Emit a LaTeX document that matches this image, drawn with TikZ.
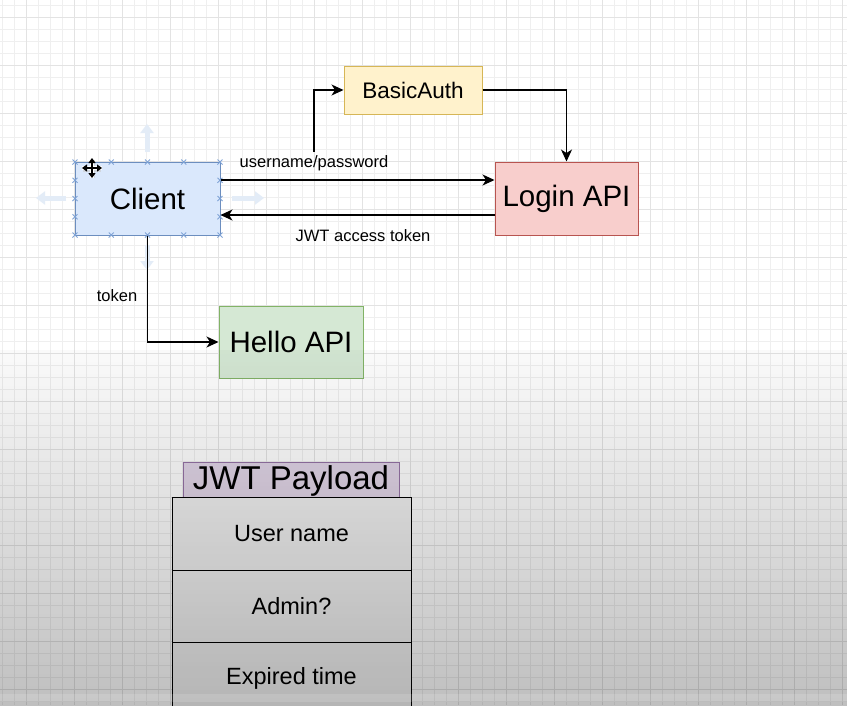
\documentclass[tikz,border=0pt]{standalone}
\usepackage{fontspec}
\setmainfont{Liberation Sans}
\usetikzlibrary{arrows.meta}
\definecolor{cfill}{HTML}{DAE8FC}\definecolor{cline}{HTML}{6C8EBF}
\definecolor{lfill}{HTML}{F8CECC}\definecolor{lline}{HTML}{B85450}
\definecolor{bfill}{HTML}{FFF2CC}\definecolor{bline}{HTML}{D6B656}
\definecolor{hfill}{HTML}{D5E8D4}\definecolor{hline}{HTML}{82B366}
\definecolor{pfill}{HTML}{E1D5E7}\definecolor{pline}{HTML}{9673A6}
\definecolor{gridminor}{HTML}{EFEFEF}\definecolor{gridmajor}{HTML}{E3E3E3}
\definecolor{cellfill}{HTML}{F2F2F2}\definecolor{hover}{HTML}{E3ECF7}
\definecolor{handle}{HTML}{7FA3D6}
\tikzset{
  box/.style={draw, line width=1pt, rectangle, inner sep=0pt, align=center},
  bigtxt/.style={font=\fontsize{29.5}{34}\selectfont},
  midtxt/.style={font=\fontsize{22.5}{27}\selectfont},
  smalltxt/.style={font=\fontsize{16.5}{20}\selectfont, inner sep=0pt},
  celltxt/.style={font=\fontsize{23.5}{28}\selectfont},
  arr/.style={line width=1.3pt, -{Stealth[length=12pt,width=11pt,inset=3.5pt]}},
  hoverarrow/.style={hover, line width=5pt, -{Triangle[length=9pt,width=13pt]}},
  handlemark/.style={handle, line width=0.8pt},
  curarrow/.style={line width=2pt, {Triangle[length=5pt,width=7pt]}-{Triangle[length=5pt,width=7pt]}}
}
\begin{document}
\begin{tikzpicture}[x=1pt,y=-1pt]
\useasboundingbox (0,0) rectangle (847,705);
\fill[white] (0,0) rectangle (847,705);
% grid
\foreach \x in {2,14,...,842} \draw[gridminor, line width=0.7pt] (\x,0) -- (\x,705);
\foreach \y in {5.3,17.3,...,704} \draw[gridminor, line width=0.7pt] (0,\y) -- (847,\y);
\foreach \x in {26,74,...,842} \draw[gridmajor, line width=0.8pt] (\x,0) -- (\x,705);
\foreach \y in {17.3,65.3,...,704} \draw[gridmajor, line width=0.8pt] (0,\y) -- (847,\y);

% hover arrows around the selected Client
\draw[hoverarrow] (147,152) -- (147,124);
\draw[hoverarrow] (66,198) -- (36,198);
\draw[hoverarrow] (232,198) -- (264,198);
\draw[hoverarrow] (147,245) -- (147,270);

% nodes
\node[box, draw=cline, fill=cfill, minimum width=145pt, minimum height=73pt, bigtxt] (client) at (147.5,198.5) {Client};
\node[box, draw=lline, fill=lfill, minimum width=143pt, minimum height=73pt, bigtxt] (login) at (566.5,198.5) {Login API};
\node[box, draw=bline, fill=bfill, minimum width=138pt, minimum height=48pt, midtxt] (basic) at (413,90) {BasicAuth};
\node[box, draw=hline, fill=hfill, minimum width=144pt, minimum height=72pt, bigtxt] (hello) at (291,342) {Hello API};

% selection handles on Client
\foreach \px in {75,111.25,147.5,183.75,220} {
  \foreach \py in {162,235} {
    \draw[handlemark] (\px-2.5,\py-2.5) -- (\px+2.5,\py+2.5) (\px-2.5,\py+2.5) -- (\px+2.5,\py-2.5);
  }
}
\foreach \py in {180.25,198.5,216.75} {
  \foreach \px in {75,220} {
    \draw[handlemark] (\px-2.5,\py-2.5) -- (\px+2.5,\py+2.5) (\px-2.5,\py+2.5) -- (\px+2.5,\py-2.5);
  }
}

% connectors
\draw[arr] (client.east |- 0,180) -- (login.west |- 0,180);
\node[smalltxt] (lblup) at (314,163.5) {username/password};
\draw[arr] (login.west |- 0,215) -- (client.east |- 0,215);
\node[smalltxt] (lbljwt) at (363,236) {JWT access token};
\coordinate (bastart) at (314,152);
\draw[arr] (bastart) |- (basic.west);
\draw[arr] (basic.east) -| (login.north);
\draw[arr] (client.south) |- (hello.west);
\node[smalltxt] (lbltoken) at (117,296) {token};

% move cursor
\begin{scope}[shift={(92,168)}]
  \draw[gray!40, line width=5pt, opacity=0.6] (-9,1) -- (9,1) (0,-8) -- (0,10);
  \draw[white, line width=4.5pt] (-10,0) -- (10,0) (0,-10) -- (0,10);
  \draw[black, curarrow] (-10,0) -- (10,0);
  \draw[black, curarrow] (0,-10) -- (0,10);
\end{scope}

% JWT payload table
\node[box, draw=pline, fill=pfill, minimum width=216pt, minimum height=35pt] (payload) at (291,479.5) {};
\node[font=\fontsize{33}{38}\selectfont, inner sep=0pt] (payloadtxt) at (291,481) {JWT Payload};
\node[box, draw=black, fill=cellfill, minimum width=239pt, minimum height=73pt, celltxt] (cell1) at (291.5,533.5) {User name};
\node[box, draw=black, fill=cellfill, minimum width=239pt, minimum height=72pt, celltxt] (cell2) at (291.5,606) {Admin?};
\node[box, draw=black, fill=cellfill, minimum width=239pt, minimum height=72pt, celltxt] (cell3) at (291.5,678) {Expired time};

% video-like darkening toward the bottom
\foreach \i in {0,...,88} {
  \pgfmathsetmacro{\yy}{350+4*\i}
  \pgfmathsetmacro{\op}{0.02+0.23*\i/88}
  \fill[black, opacity=\op] (0,\yy) rectangle (847,\yy+4);
}
\fill[white, opacity=0.13] (0,694) rectangle (847,702);
\end{tikzpicture}
\end{document}
